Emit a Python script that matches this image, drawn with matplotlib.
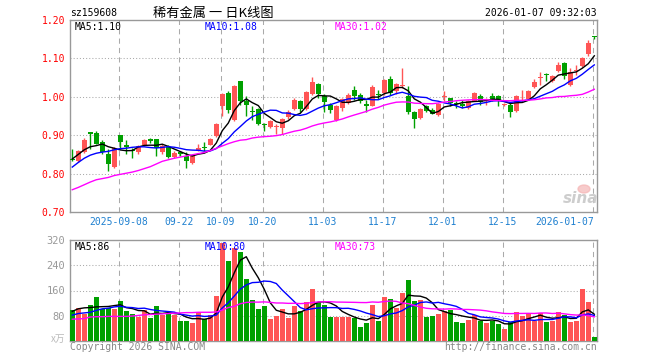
import matplotlib

matplotlib.use("Agg")
import matplotlib.pyplot as plt
import matplotlib.transforms as mtransforms
from matplotlib.patches import Ellipse
import numpy as np
import pandas as pd

# daily OHLC, 2025-08-27 .. 2026-01-07 (88 sessions)
OPEN = [0.838, 0.832, 0.856, 0.908, 0.907, 0.882, 0.852, 0.817, 0.900, 0.874,
        0.860, 0.856, 0.875, 0.890, 0.890, 0.856, 0.869, 0.842, 0.855, 0.847,
        0.828, 0.860, 0.868, 0.875, 0.898, 0.975, 1.010, 0.940, 1.042, 0.990,
        0.962, 0.968, 0.928, 0.922, 0.921, 0.918, 0.948, 0.968, 0.990, 0.968,
        1.008, 1.033, 1.001, 0.979, 0.939, 0.970, 0.983, 1.018, 1.005, 0.982,
        0.977, 1.006, 1.010, 1.046, 1.014, 1.028, 1.003, 0.960, 0.946, 0.975,
        0.966, 0.953, 0.999, 0.998, 0.984, 0.981, 0.972, 0.989, 1.003, 0.990,
        1.003, 1.003, 0.978, 0.979, 0.963, 0.993, 0.995, 1.025, 1.050, 1.058,
        1.040, 1.067, 1.089, 1.030, 1.068, 1.080, 1.112, 1.159]
CLOSE = [0.835, 0.860, 0.887, 0.904, 0.878, 0.856, 0.825, 0.867, 0.882, 0.868,
         0.858, 0.872, 0.887, 0.885, 0.867, 0.872, 0.843, 0.853, 0.852, 0.834,
         0.847, 0.867, 0.866, 0.889, 0.929, 1.008, 0.966, 1.029, 0.990, 0.979,
         0.960, 0.928, 0.926, 0.937, 0.924, 0.941, 0.960, 0.992, 0.968, 1.012,
         1.039, 1.007, 0.986, 0.966, 0.975, 0.995, 1.005, 1.001, 0.989, 0.975,
         1.026, 1.005, 1.045, 1.010, 1.033, 1.029, 0.960, 0.941, 0.968, 0.963,
         0.954, 0.982, 1.001, 0.983, 0.982, 0.976, 0.989, 1.009, 0.986, 0.992,
         0.992, 0.988, 0.980, 0.960, 1.003, 0.995, 1.016, 1.039, 1.051, 1.056,
         1.054, 1.082, 1.054, 1.065, 1.069, 1.102, 1.141, 1.157]
HIGH = [0.863, 0.861, 0.893, 0.908, 0.910, 0.887, 0.865, 0.869, 0.900, 0.887,
        0.867, 0.875, 0.890, 0.894, 0.891, 0.878, 0.874, 0.860, 0.858, 0.855,
        0.850, 0.877, 0.881, 0.893, 0.931, 1.010, 1.014, 1.032, 1.042, 1.003,
        0.975, 0.970, 0.933, 0.940, 0.928, 0.944, 0.966, 0.996, 0.992, 1.014,
        1.051, 1.036, 1.007, 0.983, 0.979, 0.998, 1.010, 1.027, 1.010, 0.992,
        1.032, 1.018, 1.047, 1.055, 1.036, 1.074, 1.027, 0.963, 0.970, 0.979,
        0.972, 0.983, 1.016, 0.998, 0.988, 0.992, 0.992, 1.012, 1.008, 0.998,
        1.010, 1.005, 0.983, 0.983, 1.005, 1.018, 1.018, 1.047, 1.065, 1.062,
        1.056, 1.091, 1.091, 1.074, 1.082, 1.104, 1.147, 1.159]
LOW = [0.832, 0.830, 0.853, 0.865, 0.876, 0.852, 0.806, 0.815, 0.865, 0.852,
       0.841, 0.852, 0.873, 0.880, 0.847, 0.850, 0.840, 0.840, 0.845, 0.815,
       0.826, 0.858, 0.858, 0.874, 0.896, 0.951, 0.957, 0.937, 0.979, 0.951,
       0.940, 0.926, 0.911, 0.920, 0.902, 0.904, 0.942, 0.966, 0.960, 0.966,
       1.005, 0.998, 0.961, 0.957, 0.937, 0.963, 0.981, 0.992, 0.983, 0.960,
       0.975, 0.995, 1.005, 1.005, 1.007, 1.023, 0.954, 0.919, 0.941, 0.960,
       0.954, 0.951, 0.988, 0.977, 0.970, 0.972, 0.968, 0.988, 0.979, 0.979,
       0.989, 0.975, 0.975, 0.948, 0.961, 0.986, 0.993, 1.023, 1.032, 1.042,
       1.039, 1.065, 1.047, 1.027, 1.058, 1.078, 1.106, 1.150]
# volume in 10k lots
VOLUME = [97, 103, 87, 113, 140, 101, 106, 101, 126, 94,
          87, 75, 97, 72, 110, 82, 89, 82, 63, 63,
          56, 91, 71, 82, 142, 310, 253, 294, 282, 196,
          129, 101, 110, 69, 78, 101, 72, 110, 94, 124,
          164, 124, 115, 76, 76, 77, 77, 74, 45, 58,
          114, 63, 140, 134, 106, 153, 194, 127, 130, 76,
          79, 86, 95, 98, 60, 57, 68, 82, 63, 57,
          63, 53, 37, 60, 92, 79, 86, 63, 89, 60,
          63, 92, 81, 60, 63, 165, 124, 12]

# MA values at the start of the window (need history before the first candle)
MA5_HEAD = [0.838, 0.850, 0.862, 0.870]
MA10_HEAD = [0.817, 0.829, 0.840, 0.848, 0.853, 0.856, 0.858, 0.862, 0.865]
MA30_HEAD = [0.758, 0.764, 0.771, 0.778, 0.784, 0.787, 0.790, 0.795, 0.798, 0.801,
             0.804, 0.808, 0.813, 0.818, 0.825, 0.832, 0.836, 0.840, 0.843, 0.846,
             0.849, 0.852, 0.855, 0.860, 0.866, 0.872, 0.878, 0.883, 0.887]
VMA5_HEAD = [94, 102, 105, 106]
VMA10_HEAD = [82, 87, 89, 91, 97, 102, 104, 108, 110]
VMA30_HEAD = [69, 70, 71, 76, 77, 77, 78, 78, 78, 78,
              79, 81, 83, 84, 85, 86, 87, 88, 89, 90,
              90, 91, 91, 91, 92, 98, 106, 110, 118]

DATE_TICKS = [8, 18, 25, 32, 42, 52, 62, 72, 87]
DATE_LABELS = ["2025-09-08", "09-22", "10-09", "10-20", "11-03", "11-17",
               "12-01", "12-15", "2026-01-07"]
PRICE_TICKS = [0.70, 0.80, 0.90, 1.00, 1.10, 1.20]
VOL_TICKS = [80, 160, 240, 320]

UP, DOWN = "#FF5555", "#00A000"
GRID = "#AAAAAA"
MONO = "DejaVu Sans Mono"
CJK = ["Noto Sans CJK SC", "DejaVu Sans"]
W, H = 660, 360


def fx(x):
    return x / W


def fy(y):
    return 1 - y / H


def with_head(series, n, head):
    ma = series.rolling(n).mean()
    ma.iloc[:n - 1] = head
    return ma


def frame(ax, hticks):
    for s in ax.spines.values():
        s.set_color("#999999")
        s.set_linewidth(1)
    ax.set_xlim(-0.38, 87.45)
    for t in DATE_TICKS:
        ax.axvline(t - 0.25, color=GRID, lw=0.75, ls=(0, (5, 4)), zorder=0)
    for t in hticks:
        ax.axhline(t, color=GRID, lw=0.75, ls=(0, (1, 2)), zorder=0)
    ax.set_xticks([])
    ax.tick_params(axis="y", length=0, pad=3.5)


fig = plt.figure(figsize=(W / 100, H / 100), dpi=100)
ax = fig.add_axes([fx(70), fy(212), (597 - 70) / W, (212 - 20) / H])
axv = fig.add_axes([fx(70), fy(341), (597 - 70) / W, (341 - 240) / H])

o, c, h, l = map(np.array, (OPEN, CLOSE, HIGH, LOW))
x = np.arange(len(c))
up = c >= o
cols = np.where(up, UP, DOWN)

# price panel
frame(ax, [0.8, 0.9, 1.0, 1.1])
ax.vlines(x, l, h, colors=cols, lw=1, zorder=2)
ax.bar(x, np.maximum(np.abs(c - o), 0.0025), bottom=np.minimum(o, c),
       width=0.8, color=cols, lw=0, zorder=3)
cs = pd.Series(c)
ax.plot(x, with_head(cs, 5, MA5_HEAD), color="black", lw=1, zorder=4)
ax.plot(x, with_head(cs, 10, MA10_HEAD), color="#0000FF", lw=1, zorder=4)
ax.plot(x, with_head(cs, 30, MA30_HEAD), color="#FF00FF", lw=1, zorder=4)
ax.set_ylim(0.70, 1.20)
ax.set_yticks(PRICE_TICKS)
ax.set_yticklabels([f"{v:.2f}" for v in PRICE_TICKS], color="#FF0000",
                   family=MONO, fontsize=7)

trans = mtransforms.blended_transform_factory(ax.transData, ax.transAxes)
for t, lab in zip(DATE_TICKS, DATE_LABELS):
    ha = "right" if t == DATE_TICKS[-1] else "center"
    ax.text(t - 0.1 if ha == "right" else t - 0.25, -0.05, lab, transform=trans,
            ha=ha, va="center", color="#1F80D0", family=MONO, fontsize=7)

# volume panel
frame(axv, [80, 160, 240])
axv.bar(x, VOLUME, width=0.88, color=cols, lw=0, zorder=3)
vs = pd.Series(VOLUME, dtype=float)
axv.plot(x, with_head(vs, 5, VMA5_HEAD), color="black", lw=1, zorder=4)
axv.plot(x, with_head(vs, 10, VMA10_HEAD), color="#0000FF", lw=1, zorder=4)
axv.plot(x, with_head(vs, 30, VMA30_HEAD), color="#FF00FF", lw=1, zorder=4)
axv.set_ylim(0, 320)
axv.set_yticks(VOL_TICKS)
axv.set_yticklabels([str(v) for v in VOL_TICKS], color="#999999",
                    family=MONO, fontsize=7.5)

# header / legends / footer
fig.text(fx(70), fy(13), "sz159608", ha="left", va="center", family=MONO, fontsize=7)
fig.text(fx(213), fy(13), "稀有金属 一 日K线图", ha="center", va="center",
         family=CJK, fontsize=9.5)
fig.text(fx(597), fy(13), "2026-01-07 09:32:03", ha="right", va="center",
         family=MONO, fontsize=7)
for xp, txt, col in [(75, "MA5:1.10", "black"), (205, "MA10:1.08", "#0000FF"),
                     (335, "MA30:1.02", "#FF00FF")]:
    fig.text(fx(xp), fy(27), txt, ha="left", va="center", color=col, family=MONO, fontsize=7)
for xp, txt, col in [(75, "MA5:86", "black"), (205, "MA10:80", "#0000FF"),
                     (335, "MA30:73", "#FF00FF")]:
    fig.text(fx(xp), fy(247), txt, ha="left", va="center", color=col, family=MONO, fontsize=7)
fig.text(fx(65), fy(339), "x万", ha="right", va="center", color="#BBBBBB",
         family=CJK, fontsize=7)
fig.text(fx(70), fy(347), "Copyright 2026 SINA.COM", ha="left", va="center",
         color="#888888", family=MONO, fontsize=7)
fig.text(fx(597), fy(347), "http://finance.sina.com.cn", ha="right", va="center",
         color="#888888", family=MONO, fontsize=7)

# faded sina watermark
fig.add_artist(Ellipse((fx(584), fy(189)), 12 / W, 8 / H, color="#F5B5B5", alpha=0.7))
fig.text(fx(581), fy(198), "sina", ha="center", va="center", color="#C8C8C8",
         fontsize=11, fontweight="bold", style="italic", alpha=0.9)

fig.savefig("out.png", dpi=100)
